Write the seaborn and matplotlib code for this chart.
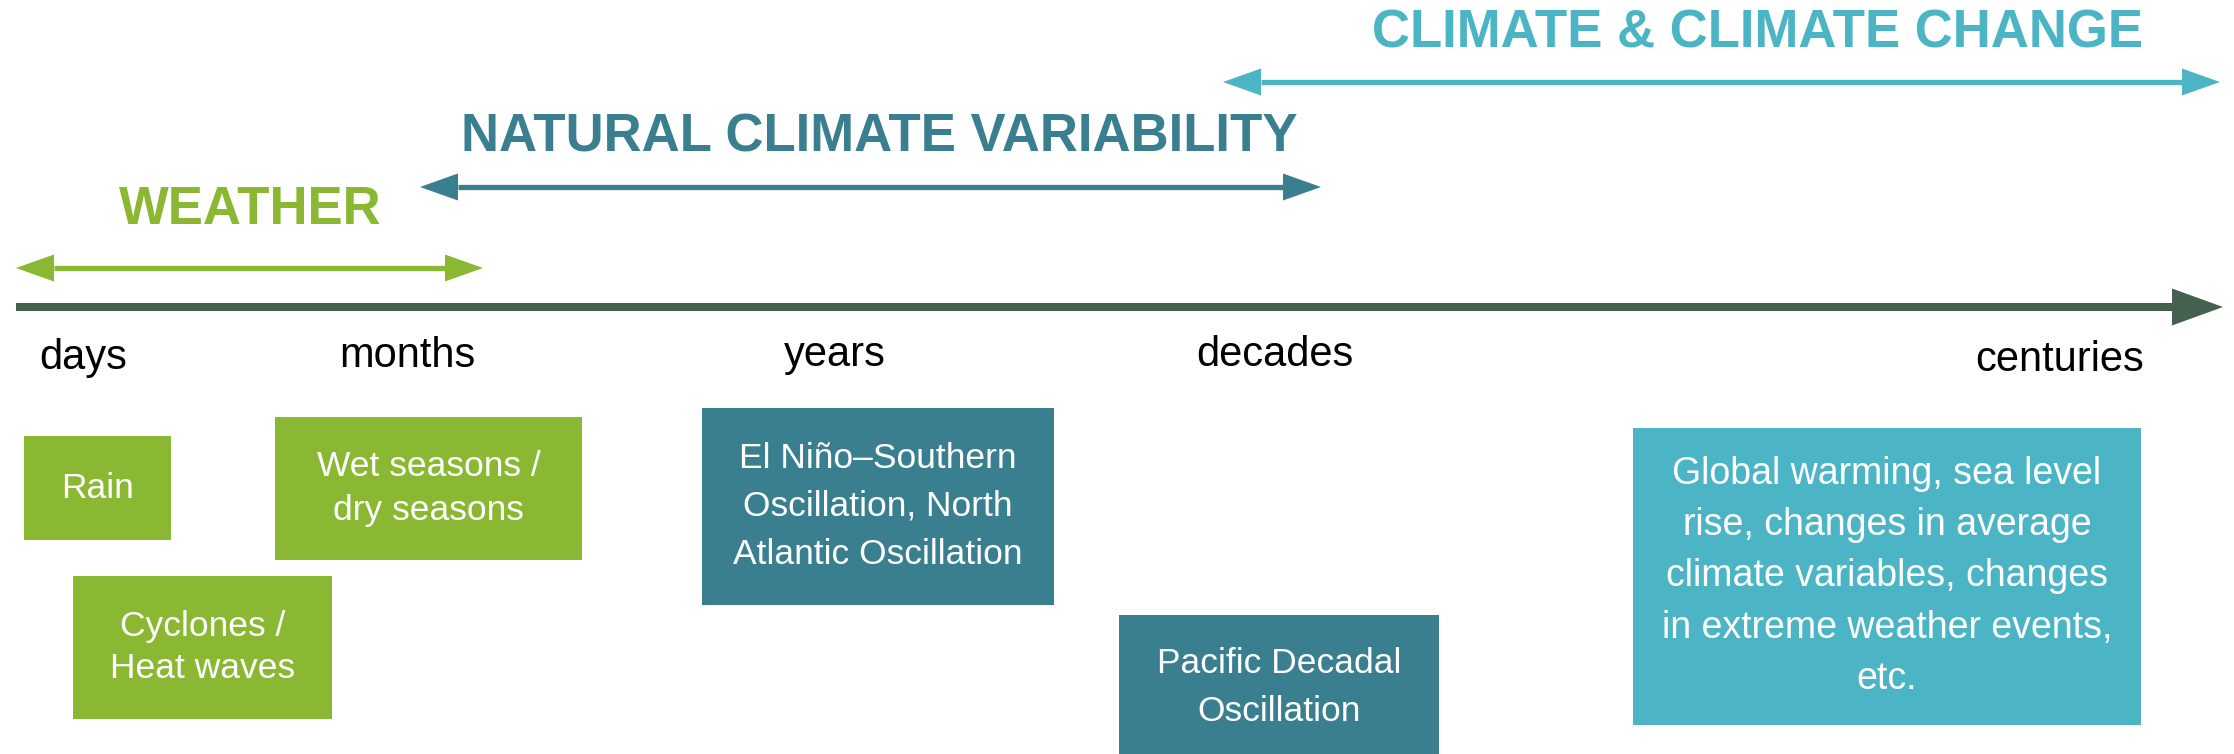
import numpy as np
import pandas as pd
import seaborn as sns
import matplotlib.pyplot as plt

sns.set_theme(style="white")
plt.rcParams['font.family'] = ['Liberation Sans', 'DejaVu Sans']

# timescale labels along the main axis (pixel positions of the diagram)
scale_labels = ["days", "months", "years", "decades", "centuries"]
scale_x = [83, 407, 835, 1275, 2060]
scale_y = [369, 367, 366, 366, 371]

# the three range arrows
range_names = ["WEATHER", "NATURAL CLIMATE VARIABILITY", "CLIMATE & CLIMATE CHANGE"]
range_start = [16, 420, 1223]
range_end = [483, 1321, 2220]
range_y = [268, 187, 82]
range_label_x = [250, 879, 1758]
range_label_y = [210, 137, 34]
range_colors = ["#8ab833", "#3a7f8f", "#4bb4c5"]

# example boxes
box_text = ["Rain",
            "Wet seasons /\ndry seasons",
            "Cyclones /\nHeat waves",
            "El Niño–Southern\nOscillation, North\nAtlantic Oscillation",
            "Pacific Decadal\nOscillation",
            "Global warming, sea level\nrise, changes in average\nclimate variables, changes\nin extreme weather events,\netc."]
box_left = [24, 275, 73, 702, 1119, 1633]
box_right = [171, 582, 332, 1054, 1439, 2141]
box_top = [436, 417, 576, 408, 615, 428]
box_bottom = [540, 560, 719, 605, 760, 725]
box_group = [0, 0, 0, 1, 1, 2]
box_fontsize = [25.5, 25.5, 25.5, 25.5, 25.5, 27]
box_spacing = [1.2, 1.45, 1.38, 1.59, 1.6, 1.55]

axis_start, axis_end, axis_y = 16, 2223, 307
axis_color = "#46604f"

fig = plt.figure(figsize=(22.34, 7.54), dpi=100)
ax = fig.add_axes([0, 0, 1, 1])
ax.set_xlim(0, 2234)
ax.set_ylim(754, 0)
ax.axis("off")


def arrow_head(ax, tip, y, length, half, color):
    # triangle pointing at tip, length<0 points left
    ax.fill([tip, tip - length, tip - length], [y, y - half, y + half],
            color=color, lw=0)


# main time axis
ax.hlines(axis_y, axis_start, axis_end - 51, color=axis_color, lw=8 * 0.72)
arrow_head(ax, axis_end, axis_y, 51, 18.5, axis_color)

# range arrows (double headed)
for name, x0, x1, y, lx, ly, c in zip(range_names, range_start, range_end,
                                      range_y, range_label_x, range_label_y,
                                      range_colors):
    ax.hlines(y, x0 + 38, x1 - 38, color=c, lw=5.3 * 0.72)
    arrow_head(ax, x1, y, 38, 13.5, c)
    arrow_head(ax, x0, y, -38, 13.5, c)
    ax.text(lx, ly, name, color=c, fontsize=38, fontweight="bold",
            ha="center", va="center")

# timescale labels
for lab, x, y in zip(scale_labels, scale_x, scale_y):
    ax.text(x, y, lab, fontsize=30, color="black", ha="center", va="baseline")

# boxes
for txt, l, r, t, b, g, fs, sp in zip(box_text, box_left, box_right, box_top,
                                      box_bottom, box_group, box_fontsize,
                                      box_spacing):
    ax.bar(l, b - t, width=r - l, bottom=t, align="edge",
           color=range_colors[g], lw=0)
    ax.text((l + r) / 2, (t + b) / 2, txt, color="white", fontsize=fs,
            ha="center", va="center", linespacing=sp, multialignment="center")

fig.savefig("out.png", dpi=100)
